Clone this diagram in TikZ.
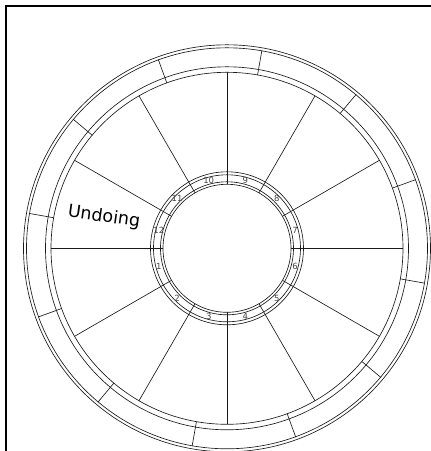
\documentclass[tikz,border=0pt]{standalone}
\usepackage{fontspec}
\newfontfamily\wheelsans{DejaVu Sans}
\usetikzlibrary{positioning}
\definecolor{ink}{HTML}{1A1A1A}
\definecolor{ink3}{HTML}{444444}
\tikzset{
  ring/.style={draw=ink, line width=0.65pt},
  cusp/.style={draw=ink, line width=0.65pt},
  axis/.style={draw=ink, line width=1.6pt},
  signtick/.style={draw=ink, line width=0.65pt},
  hnum/.style={font=\wheelsans\fontsize{8.5}{8.5}\selectfont, text=ink3, inner sep=0pt},
  frame/.style={draw=black, line width=2pt},
  lbl/.style={font=\wheelsans\fontsize{17.5}{17.5}\selectfont, text=black, inner sep=0pt},
}

\begin{document}
\begin{tikzpicture}[x=1pt,y=1pt]
\useasboundingbox (-227,-202.7) rectangle (204,248.3);
% ---- frame (cut off at right and bottom) ----
\draw[frame] (-220.5,-202.7) -- (-220.5,242.8) -- (204,242.8);
% ---- outer band ----
\foreach \r in {203.5,200.5,181.5,176}{ \draw[ring] (0,0) circle (\r); }
\foreach \a in {20,50,...,350}{ \draw[signtick] (\a:176) -- (\a:201); }
% ---- inner band ----
\foreach \r in {76.5,73.5,66.5,64}{ \draw[ring] (0,0) circle (\r); }
% ---- house cusps ----
\foreach \a in {30,60,90,120,150,210,240,270,300,330}{ \draw[cusp] (\a:64) -- (\a:176); }
\foreach \a in {0,180}{ \draw[axis] (\a:64) -- (\a:176); }
% ---- house numbers ----
\foreach \k in {1,...,12}{ \node[hnum] (h\k) at ({165+30*\k}:70.5) {\k}; }
\node[lbl, rotate=-8] (undoing) at (-123,31.3) {Undoing};
\end{tikzpicture}
\end{document}
